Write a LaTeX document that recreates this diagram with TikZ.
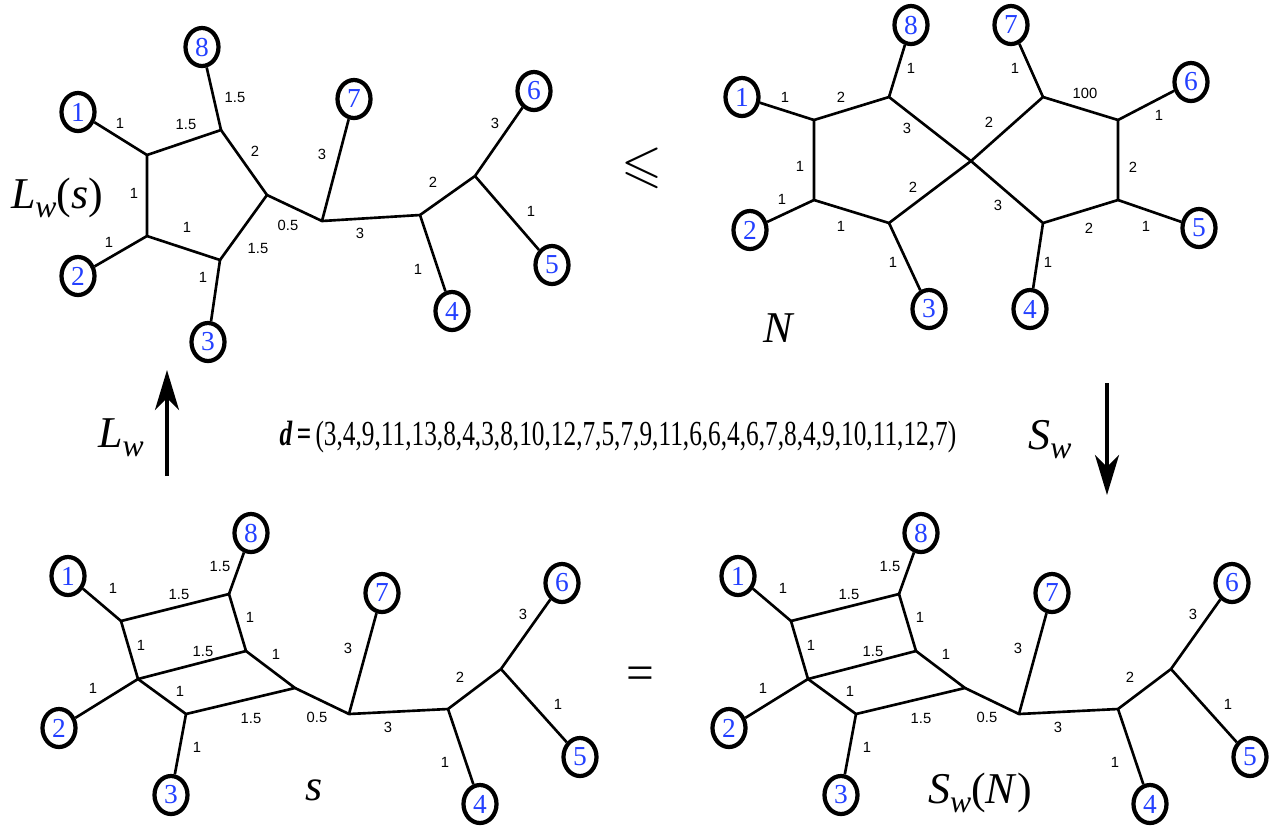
\documentclass[tikz,border=0pt]{standalone}
\usepackage{fontspec}
\usepackage{amssymb}
\setmainfont{Liberation Serif}
\newfontfamily\wtfont{Liberation Sans}
\usetikzlibrary{arrows.meta,shapes.geometric}
\definecolor{leafblue}{HTML}{2340FF}
\newcommand{\lsub}[1]{\raisebox{-0.45ex}{\fontsize{9}{9}\selectfont\itshape #1}}

\tikzset{
  leaf/.style={ellipse, draw, line width=1.2pt, inner sep=0pt, minimum width=0.33cm,
    minimum height=0.38cm, text=leafblue, font=\fontsize{7.8}{7.8}\selectfont},
  wt/.style={font=\wtfont\fontsize{4.2}{4.2}\selectfont, inner sep=0.5pt},
  tree/.style={line width=0.75pt},
  lab/.style={font=\fontsize{12.5}{12.5}\selectfont, inner sep=1pt},
  map/.style={line width=1.1pt, -{Stealth[length=0.4cm, width=0.24cm, inset=0.12cm]}}
}

\begin{document}
\begin{tikzpicture}[x=0.01cm, y=-0.01cm]
  \useasboundingbox (0,0) rectangle (1275,829);

  % top left: L_w(s)
  \coordinate (a1) at (147,155);
  \coordinate (a2) at (221,130);
  \coordinate (a3) at (267,195);
  \coordinate (a4) at (220,260);
  \coordinate (a5) at (147,236);
  \coordinate (a6) at (322,221);
  \coordinate (a7) at (420,215);
  \coordinate (a8) at (475,176);
  \node[leaf] (al1) at (78,112) {1};
  \node[leaf] (al2) at (78,276) {2};
  \node[leaf] (al3) at (208,342) {3};
  \node[leaf] (al4) at (452,311) {4};
  \node[leaf] (al5) at (552,265) {5};
  \node[leaf] (al6) at (534,91) {6};
  \node[leaf] (al7) at (354,99) {7};
  \node[leaf] (al8) at (202,47) {8};
  \draw[tree] (a1) -- (a2) -- (a3) -- (a4) -- (a5) -- cycle;
  \draw[tree] (a3) -- (a6) -- (a7) -- (a8);
  \draw[tree] (a1) -- (al1);
  \draw[tree] (a5) -- (al2);
  \draw[tree] (a4) -- (al3);
  \draw[tree] (a7) -- (al4);
  \draw[tree] (a8) -- (al5);
  \draw[tree] (a8) -- (al6);
  \draw[tree] (a6) -- (al7);
  \draw[tree] (a2) -- (al8);
  \foreach \x/\y/\t [count=\i] in {120/123/1, 186/124/1.5, 235/97/1.5, 255/151/2,
      134/193/1, 187/227/1, 109/242/1, 258/248/1.5, 203/277/1, 288/225/0.5,
      322/154/3, 360/233/3, 433/182/2, 418/269/1, 495/123/3, 531/211/1}
    \node[wt] (aw\i) at (\x,\y) {\t};
  \node[lab] (lws) at (57,198) {\textit{L}\lsub{w}(\textit{s})};

  \node[font=\fontsize{15}{15}\selectfont] (leq) at (642,168) {$\leqslant$};

  % top right: N
  \coordinate (p1) at (814,120);
  \coordinate (p2) at (889,97);
  \coordinate (x0) at (971,161);
  \coordinate (p3) at (889,223);
  \coordinate (p4) at (814,200);
  \coordinate (q1) at (1043,97);
  \coordinate (q2) at (1118,120);
  \coordinate (q3) at (1118,200);
  \coordinate (q4) at (1043,223);
  \node[leaf] (nl1) at (742,97) {1};
  \node[leaf] (nl2) at (750,230) {2};
  \node[leaf] (nl3) at (929,309) {3};
  \node[leaf] (nl4) at (1030,309) {4};
  \node[leaf] (nl5) at (1199,228) {5};
  \node[leaf] (nl6) at (1191,82) {6};
  \node[leaf] (nl7) at (1011,25) {7};
  \node[leaf] (nl8) at (911,25) {8};
  \draw[tree] (x0) -- (p2) -- (p1) -- (p4) -- (p3) -- cycle;
  \draw[tree] (x0) -- (q1) -- (q2) -- (q3) -- (q4) -- cycle;
  \draw[tree] (p1) -- (nl1);
  \draw[tree] (p4) -- (nl2);
  \draw[tree] (p3) -- (nl3);
  \draw[tree] (q4) -- (nl4);
  \draw[tree] (q3) -- (nl5);
  \draw[tree] (q2) -- (nl6);
  \draw[tree] (q1) -- (nl7);
  \draw[tree] (p2) -- (nl8);
  \foreach \x/\y/\t [count=\i] in {785/97/1, 841/97/2, 911/68/1, 907/128/3,
      989/122/2, 1015/68/1, 1085/93/100, 1159/115/1, 1133/167/2, 1146/226/1,
      1089/228/2, 1048/262/1, 998/205/3, 913/187/2, 841/226/1, 893/262/1,
      782/199/1, 800/166/1}
    \node[wt] (nw\i) at (\x,\y) {\t};
  \node[lab] (nlab) at (779,328) {\textit{N}};

  % maps
  \coordinate (lwtail) at (167,476);
  \coordinate (lwtip) at (167,370);
  \draw[map] (lwtail) -- (lwtip);
  \node[lab] (lw) at (121,438) {\textit{L}\lsub{w}};
  \coordinate (swtail) at (1107,383);
  \coordinate (swtip) at (1107,495);
  \draw[map] (swtail) -- (swtip);
  \node[lab] (sw) at (1050,440) {\textit{S}\lsub{w}};
  \node[font=\fontsize{10}{10}\selectfont] (dvec) at (618,437)
    {\scalebox{0.72}[1]{\textbf{\textit{d}\,=}\,(3,4,9,11,13,8,4,3,8,10,12,7,5,7,9,11,6,6,4,6,7,8,4,9,10,11,12,7)}};

  % bottom: s and S_w(N)
  \foreach \pre/\dx in {s/0, n/670}{
    \begin{scope}[shift={(\dx,0)}]
      \coordinate (\pre r1) at (121,621);
      \coordinate (\pre r2) at (229,594);
      \coordinate (\pre r3) at (246,651);
      \coordinate (\pre r4) at (138,679);
      \coordinate (\pre r5) at (186,714);
      \coordinate (\pre r6) at (295,688);
      \coordinate (\pre f) at (349,714);
      \coordinate (\pre g) at (448,709);
      \coordinate (\pre h) at (501,669);
      \node[leaf] (\pre l1) at (68,576) {1};
      \node[leaf] (\pre l2) at (59,728) {2};
      \node[leaf] (\pre l3) at (171,795) {3};
      \node[leaf] (\pre l4) at (480,804) {4};
      \node[leaf] (\pre l5) at (580,757) {5};
      \node[leaf] (\pre l6) at (562,583) {6};
      \node[leaf] (\pre l7) at (382,593) {7};
      \node[leaf] (\pre l8) at (251,533) {8};
      \draw[tree] (\pre r1) -- (\pre r2) -- (\pre r3) -- (\pre r4) -- cycle;
      \draw[tree] (\pre r4) -- (\pre r5) -- (\pre r6) -- (\pre r3);
      \draw[tree] (\pre r6) -- (\pre f) -- (\pre g) -- (\pre h);
      \draw[tree] (\pre r1) -- (\pre l1);
      \draw[tree] (\pre r4) -- (\pre l2);
      \draw[tree] (\pre r5) -- (\pre l3);
      \draw[tree] (\pre g) -- (\pre l4);
      \draw[tree] (\pre h) -- (\pre l5);
      \draw[tree] (\pre h) -- (\pre l6);
      \draw[tree] (\pre f) -- (\pre l7);
      \draw[tree] (\pre r2) -- (\pre l8);
      \foreach \x/\y/\t [count=\i] in {113/588/1, 179/594/1.5, 220/566/1.5, 250/617/1,
          141/645/1, 203/651/1.5, 276/654/1, 93/688/1, 180/691/1, 251/718/1.5,
          317/717/0.5, 197/747/1, 348/648/3, 388/727/3, 460/677/2, 445/762/1,
          523/614/3, 558/704/1}
        \node[wt] (\pre w\i) at (\x,\y) {\t};
    \end{scope}
  }
  \node[lab] (slab) at (314,790) {\textit{s}};
  \node[lab] (swn) at (980,793) {\textit{S}\lsub{w}(\textit{N})};
  \node[font=\fontsize{14}{14}\selectfont] (eq) at (640,678) {=};
\end{tikzpicture}
\end{document}
